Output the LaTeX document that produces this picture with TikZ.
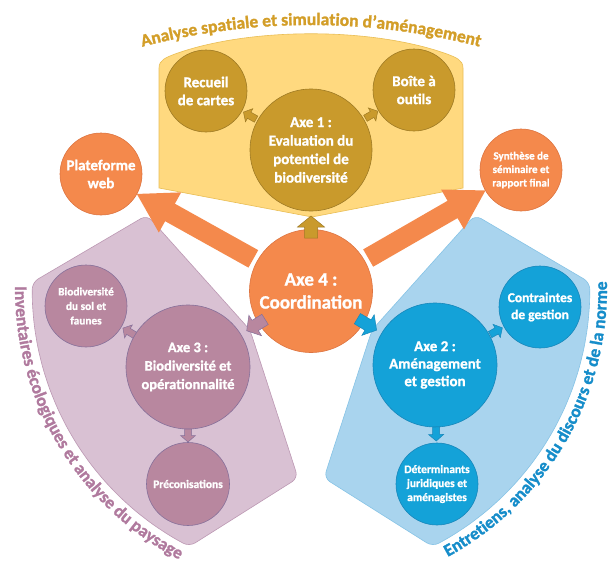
\documentclass[tikz,border=0pt]{standalone}
\usepackage{fontspec}
\setmainfont{Carlito}[BoldFeatures={FakeBold=1.2}]
\newfontfamily\curvebf{Carlito Bold}[FakeBold=1.4]
\usetikzlibrary{calc,decorations.text}

\definecolor{yelpanel}{HTML}{FFD97F}
\definecolor{yelpanelD}{HTML}{E9BE55}
\definecolor{goldfill}{HTML}{C99A2C}
\definecolor{goldline}{HTML}{9E7A24}
\definecolor{titlecol}{HTML}{D39E28}
\definecolor{orngfill}{HTML}{F4894C}
\definecolor{orngline}{HTML}{DD7440}
\definecolor{purpanel}{HTML}{D9C1D3}
\definecolor{purpanelD}{HTML}{BC98B3}
\definecolor{purfill}{HTML}{B8879F}
\definecolor{purline}{HTML}{86709A}
\definecolor{purtext}{HTML}{B07A9E}
\definecolor{bluepanel}{HTML}{A9D4EE}
\definecolor{bluepanelD}{HTML}{86C3E6}
\definecolor{bluefill}{HTML}{14A2D8}
\definecolor{blueline}{HTML}{1787BA}
\definecolor{bluetext}{HTML}{168DCA}

% block arrow between two nodes:
% #1 style, #2 source node, #3 offset from source centre, #4 target node,
% #5 offset from target centre, #6 shaft half width, #7 head half width, #8 head length
\newcommand{\blockarrow}[8]{%
  \path ($(#2)!#3pt!(#4)$) coordinate (bas) ($(#4)!#5pt!(#2)$) coordinate (bat);
  \path ($(bat)!#8pt!(bas)$) coordinate (bah);
  \path[#1] ($(bas)!#6pt!90:(bat)$) -- ($(bah)!#6pt!90:(bat)$)
    -- ($(bah)!#7pt!90:(bat)$) -- (bat) -- ($(bah)!#7pt!-90:(bat)$)
    -- ($(bah)!#6pt!-90:(bat)$) -- ($(bas)!#6pt!-90:(bat)$) -- cycle;
}

\newcommand{\curvefont}{\curvebf\fontsize{17.5}{21}\selectfont}
\newcommand{\titlefmt}{\color{titlecol}\curvefont}
\newcommand{\purfmt}{\color{purtext}\curvefont}
\newcommand{\bluefmt}{\color{bluetext}\curvefont}

\begin{document}
\begin{tikzpicture}[x=1pt, y=-1pt,
  circ/.style={circle, inner sep=0pt, align=center, text=white, line width=0.6pt},
  fs/.style 2 args={font=\bfseries\fontsize{#1}{#2}\selectfont},
  goldnode/.style={circ, fill=goldfill, draw=goldline},
  orangenode/.style={circ, fill=orngfill, draw=orngline},
  purnode/.style={circ, fill=purfill, draw=purline},
  bluenode/.style={circ, fill=bluefill, draw=blueline},
  bignode/.style={minimum size=123pt},
  smallnode/.style={minimum size=82pt},
  yelzone/.style={fill=yelpanel, draw=yelpanelD, line width=0.6pt},
  purzone/.style={fill=purpanel, draw=purpanelD, line width=0.6pt},
  bluezone/.style={fill=bluepanel, draw=bluepanelD, line width=0.6pt},
  bigarrow/.style={fill=orngfill},
  goldarrow/.style={fill=goldfill, draw=goldline, line width=0.5pt},
  purarrow/.style={fill=purfill, draw=purline, line width=0.5pt},
  bluearrow/.style={fill=bluefill, draw=blueline, line width=0.5pt}]

\fill[white] (0,0) rectangle (611,563);
\useasboundingbox (0,0) rectangle (611,563);

% ---- zones ----
\path[yelzone] (159,188) -- (159,68) .. controls (159,60) and (166,57.5) .. (175,54)
  .. controls (250,27) and (372,27) .. (447,54)
  .. controls (456,57.5) and (463,60) .. (463,68) -- (463,188) -- (312,217) -- cycle;

\path[purzone, rounded corners=7] (147,215)
  -- plot[domain=181.5:117, samples=16] ({320+288*cos(\x)}, {290+288*sin(\x)})
  -- (298,478) -- (250,330) -- cycle;

\path[bluezone, rounded corners=7] (475,215)
  -- plot[domain=-1.5:63, samples=16] ({302+288*cos(\x)}, {290+288*sin(\x)})
  -- (324,478) -- (372,330) -- cycle;

% ---- curved zone titles ----
\begingroup
\curvefont
\path[decorate, decoration={text along path, text align=center,
  text={|\titlefmt|Analyse spatiale et simulation d’aménagement}}]
  plot[domain=-107:-73, samples=60] ({311+667*cos(\x)}, {692+667*sin(\x)});

\path[decorate, decoration={text along path, text align=center,
  text={|\purfmt|Inventaires écologiques et analyse du paysage}}]
  plot[domain=185:113, samples=80] ({320+305*cos(\x)}, {289+305*sin(\x)});

\path[decorate, decoration={text along path, text align=center,
  text={|\bluefmt|Entretiens, analyse du discours et de la norme}}]
  plot[domain=66:-6, samples=80] ({302+305*cos(\x)}, {289+305*sin(\x)});
\endgroup

% ---- nodes ----
\node[orangenode, bignode, fs={19}{23}] (axe4) at (311,291) {Axe 4 :\\Coordination};
\node[orangenode, smallnode, fs={15}{18}] (web) at (101,174) {Plateforme\\web};
\node[orangenode, smallnode, fs={11}{13.5}] (synth) at (521,170) {Synthèse de\\séminaire et\\rapport final};

\node[goldnode, minimum size=122pt, fs={15}{18.5}] (axe1) at (311,150) {Axe 1 :\\Evaluation du\\potentiel de\\biodiversité};
\node[goldnode, smallnode, fs={15}{18}] (recueil) at (206,91) {Recueil\\de cartes};
\node[goldnode, smallnode, fs={15}{18}] (boite) at (414,90) {Boîte à\\outils};

\node[purnode, minimum size=124pt, fs={14.5}{18.5}] (axe3) at (188,367) {Axe 3 :\\Biodiversité et\\opérationnalité};
\node[purnode, smallnode, fs={11.3}{14.5}] (biodiv) at (86,306) {Biodiversité\\du sol et\\faunes};
\node[purnode, minimum size=83pt, fs={11.5}{14}] (precon) at (188,484) {Préconisations};

\node[bluenode, minimum size=124pt, fs={15}{17.5}] (axe2) at (435,365) {Axe 2 :\\Aménagement\\et gestion};
\node[bluenode, smallnode, fs={13.5}{17}] (contr) at (540,307) {Contraintes\\de gestion};
\node[bluenode, smallnode, fs={11.5}{14}] (determ) at (437,484) {Déterminants\\juridiques et\\aménagistes};

% ---- links ----
\blockarrow{bigarrow}{axe4}{66}{web}{41}{10}{23}{38}
\blockarrow{bigarrow}{axe4}{66}{synth}{41}{10}{23}{38}

\blockarrow{goldarrow}{axe4}{53}{axe1}{66}{6.5}{13.5}{11}
\blockarrow{goldarrow}{axe1}{63}{recueil}{43}{3.5}{7.5}{6.5}
\blockarrow{goldarrow}{axe1}{63}{boite}{42}{3.5}{7.5}{6.5}

\blockarrow{purarrow}{axe4}{54}{axe3}{69}{6}{12}{10}
\blockarrow{purarrow}{axe3}{62}{biodiv}{43}{3.5}{7.5}{6.5}
\blockarrow{purarrow}{axe3}{62}{precon}{42}{3.5}{7.5}{6.5}

\blockarrow{bluearrow}{axe4}{54}{axe2}{68}{6}{12}{10}
\blockarrow{bluearrow}{axe2}{63}{contr}{43}{3.5}{7.5}{6.5}
\blockarrow{bluearrow}{axe2}{62}{determ}{43}{3.5}{7.5}{6.5}

\end{tikzpicture}
\end{document}
